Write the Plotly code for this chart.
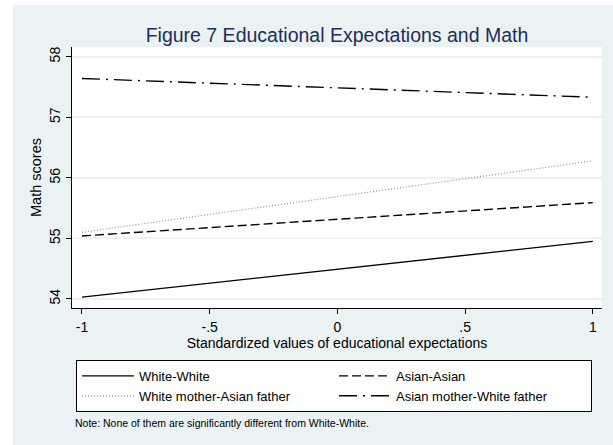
import plotly.graph_objects as go

# Valeurs (prédictions aux extrémités)
expectations = [-1, 1]
white_white = [54.03, 54.95]
asian_asian = [55.04, 55.59]
white_mother_asian_father = [55.10, 56.28]
asian_mother_white_father = [57.64, 57.33]

x_ticks = [-1, -0.5, 0, 0.5, 1]
x_tick_labels = ['-1', '-.5', '0', '.5', '1']
y_ticks = [54, 55, 56, 57, 58]

BG = '#eaf2f3'
FONT = 'Liberation Sans, Arial, sans-serif'

fig = go.Figure()

fig.add_trace(go.Scatter(
    x=expectations, y=white_white, mode='lines', name='White-White',
    line=dict(color='black', width=1.4)
))
fig.add_trace(go.Scatter(
    x=expectations, y=asian_asian, mode='lines', name='Asian-Asian',
    line=dict(color='black', width=1.4, dash='9px,4px')
))
fig.add_trace(go.Scatter(
    x=expectations, y=white_mother_asian_father, mode='lines',
    name='White mother-Asian father',
    line=dict(color='#909090', width=1.2, dash='1px,2px')
))
fig.add_trace(go.Scatter(
    x=expectations, y=asian_mother_white_father, mode='lines',
    name='Asian mother-White father',
    line=dict(color='black', width=1.4, dash='18px,6px,2px,6px')
))

fig.update_layout(
    width=613, height=445,
    margin=dict(l=72, r=11, t=47, b=137, autoexpand=False),
    paper_bgcolor=BG,
    plot_bgcolor='white',
    font=dict(family=FONT, size=13, color='black'),
    title=dict(
        text='Figure 7 Educational Expectations and Math',
        x=(337 / 613), xanchor='center', y=0.922, yanchor='middle',
        font=dict(size=19.5, color='#1c2e5e', family=FONT)
    ),
    showlegend=True,
    legend=dict(
        orientation='h', x=0.0075, xanchor='left', y=-0.199, yanchor='top',
        entrywidth=190, entrywidthmode='pixels', itemwidth=52,
        bgcolor='white', bordercolor='black', borderwidth=1,
        font=dict(size=13, family=FONT), tracegroupgap=0
    ),
    # bandes blanches en haut et à gauche, comme l'export Stata
    shapes=[
        dict(type='rect', xref='paper', yref='paper', x0=-0.3, x1=-0.1113,
             y0=-1.0, y1=1.5, fillcolor='white', line_width=0, layer='below'),
        dict(type='rect', xref='paper', yref='paper', x0=-0.3, x1=1.2,
             y0=1.161, y1=1.5, fillcolor='white', line_width=0, layer='below'),
    ],
    annotations=[
        dict(text='Note: None of them are significantly different from White-White.',
             xref='paper', yref='paper', x=0.002, y=-0.44, xanchor='left',
             yanchor='middle', showarrow=False, font=dict(size=10.5, family=FONT))
    ]
)

fig.update_xaxes(
    range=[-1.039, 1.036], tickvals=x_ticks, ticktext=x_tick_labels,
    showgrid=False, zeroline=False, showline=True, linecolor='black',
    linewidth=1, ticks='outside', ticklen=5, tickcolor='black',
    tickfont=dict(size=14), ticklabelstandoff=1,
    title=dict(text='Standardized values of educational expectations',
               font=dict(size=14), standoff=0)
)
fig.update_yaxes(
    range=[53.85, 58.16], tickvals=y_ticks, tickangle=-90,
    showgrid=True, gridcolor=BG, gridwidth=1.5, zeroline=False,
    showline=True, linecolor='black', linewidth=1, ticks='outside',
    ticklen=5, tickcolor='black', tickfont=dict(size=14),
    title=dict(text='Math scores', font=dict(size=14.5), standoff=2)
)

# marge par défaut du <body> supprimée pour caler la figure sur la fenêtre
fig.write_html('out.html', config={'displayModeBar': False},
               post_script="document.body.style.margin='0';")
